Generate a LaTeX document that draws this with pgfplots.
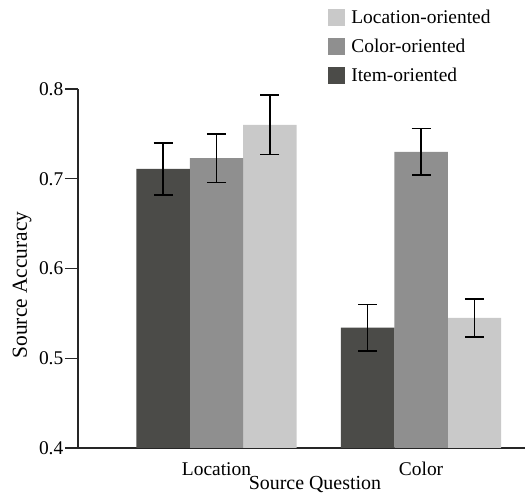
\documentclass[border=0pt]{standalone}
\usepackage{fontspec}
\setmainfont{Liberation Serif}
\usepackage{pgfplots}
\pgfplotsset{compat=1.18}

\definecolor{itemc}{HTML}{4B4B48}
\definecolor{colorc}{HTML}{8F8F8F}
\definecolor{locc}{HTML}{C9C9C9}

\begin{document}
\begin{tikzpicture}
\useasboundingbox (0,0) rectangle (525bp,494bp);
\begin{axis}[
  at={(78bp,46bp)}, anchor=south west,
  scale only axis, width=447bp, height=359bp,
  xmin=-0.677, xmax=1.508, ymin=0.4, ymax=0.8,
  axis x line=bottom, axis y line=left,
  axis line style={-, line width=1.4pt, color=black!85},
  ytick={0.4,0.5,0.6,0.7,0.8},
  yticklabel style={/pgf/number format/fixed, /pgf/number format/precision=1,
    /pgf/number format/fixed zerofill, inner sep=1.5bp},
  xtick={0,1}, xticklabels={Location,Color},
  x tick style={draw=none},
  y tick style={line width=1.4pt, color=black!85},
  tick align=outside, major tick length=13bp,
  /pgf/number format/assume math mode=true,
  ticklabel style={font=\fontsize{19.5}{22}\selectfont},
  xticklabel style={inner sep=2bp, yshift=1bp},
  xlabel={Source Question}, ylabel={Source Accuracy},
  label style={font=\fontsize{20}{22}\selectfont},
  xlabel style={at={(axis description cs:0.53,-0.101)}, anchor=center},
  ylabel style={at={(axis description cs:-0.125,0.454)}, anchor=center, font=\fontsize{21.5}{22}\selectfont},
  ybar, bar shift=0pt, bar width=0.261,
  legend style={draw=none, fill=none, at={(axis description cs:0.553,1.232)}, anchor=north west,
    font=\fontsize{19.5}{22}\selectfont, row sep=10bp, nodes={inner ysep=2bp, inner xsep=6bp}},
  legend cell align=left,
  legend image code/.code={\fill[#1] (0bp,-8.5bp) rectangle (17bp,8.5bp);},
  error bars/y dir=both, error bars/y explicit,
  error bars/error mark=-,
  error bars/error mark options={rotate=90, mark size=9.5bp, line width=1.6pt, black},
  error bars/error bar style={line width=1.6pt, black},
]
\addplot[fill=locc, draw=none] coordinates {(0.261,0.760) +- (0,0.033) (1.261,0.545) +- (0,0.021)};
\addplot[fill=colorc, draw=none] coordinates {(0,0.723) +- (0,0.027) (1,0.730) +- (0,0.026)};
\addplot[fill=itemc, draw=none] coordinates {(-0.261,0.711) +- (0,0.029) (0.739,0.534) +- (0,0.026)};
\legend{Location-oriented, Color-oriented, Item-oriented}
\end{axis}
\end{tikzpicture}
\end{document}
